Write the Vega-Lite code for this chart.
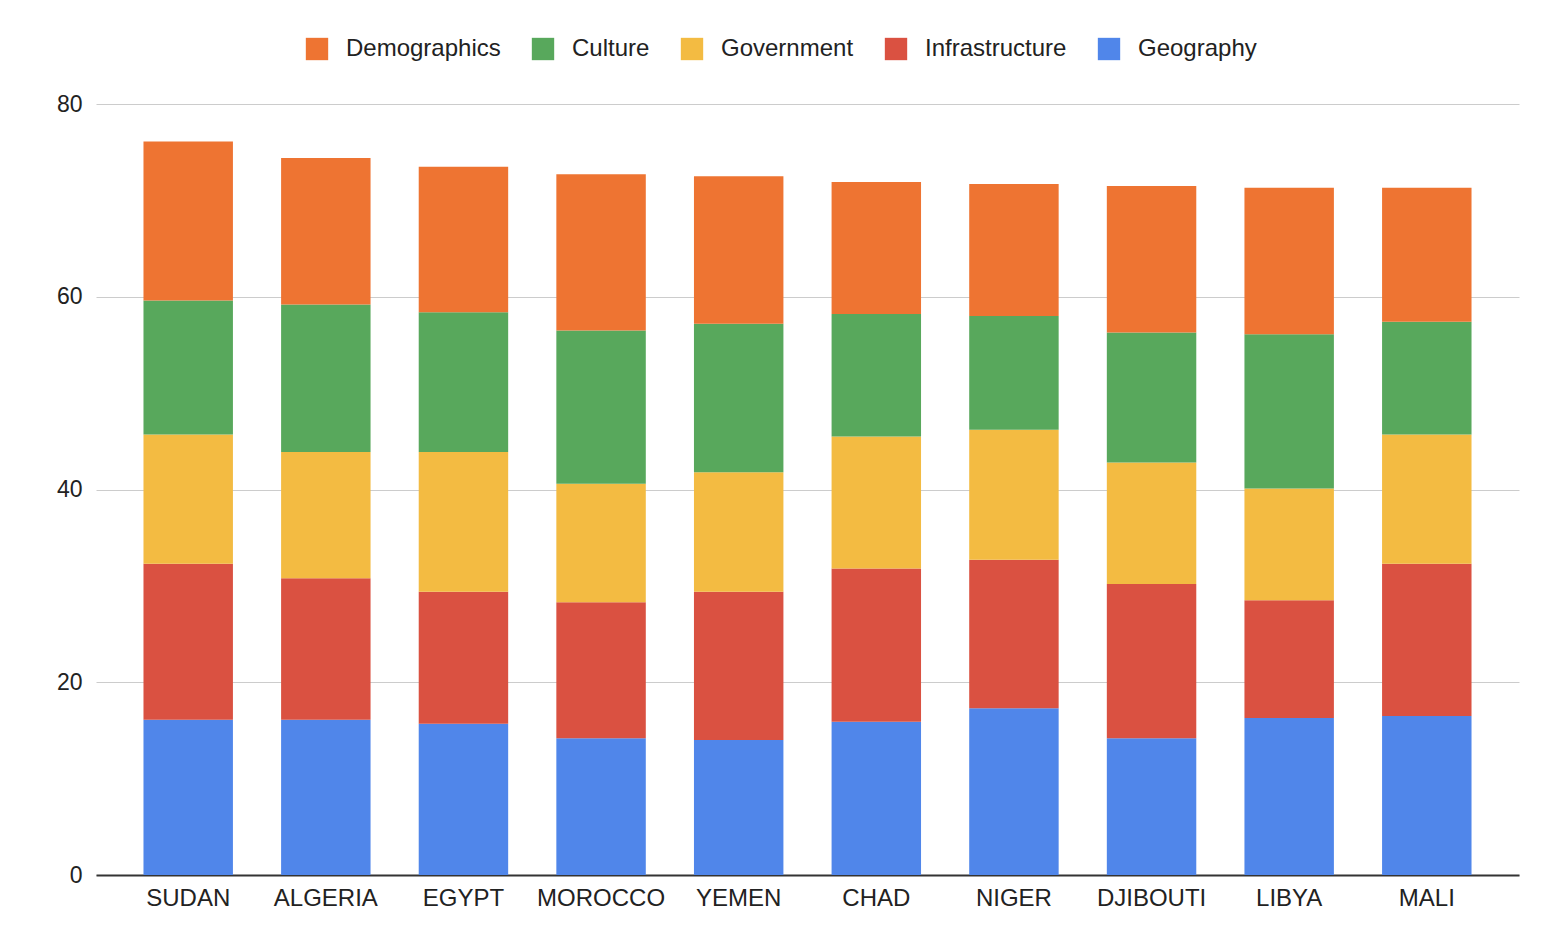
{
  "$schema": "https://vega.github.io/schema/vega-lite/v6.json",
  "autosize": "none",
  "width": 1423,
  "height": 771,
  "padding": {"left": 96, "top": 104, "right": 35, "bottom": 65},
  "background": "white",
  "data": {
    "values": [
      {"country": "SUDAN", "category": "Geography", "rank": 1, "value": 16.1},
      {"country": "SUDAN", "category": "Infrastructure", "rank": 2, "value": 16.2},
      {"country": "SUDAN", "category": "Government", "rank": 3, "value": 13.4},
      {"country": "SUDAN", "category": "Culture", "rank": 4, "value": 13.9},
      {"country": "SUDAN", "category": "Demographics", "rank": 5, "value": 16.5},
      {"country": "ALGERIA", "category": "Geography", "rank": 1, "value": 16.1},
      {"country": "ALGERIA", "category": "Infrastructure", "rank": 2, "value": 14.7},
      {"country": "ALGERIA", "category": "Government", "rank": 3, "value": 13.1},
      {"country": "ALGERIA", "category": "Culture", "rank": 4, "value": 15.3},
      {"country": "ALGERIA", "category": "Demographics", "rank": 5, "value": 15.2},
      {"country": "EGYPT", "category": "Geography", "rank": 1, "value": 15.7},
      {"country": "EGYPT", "category": "Infrastructure", "rank": 2, "value": 13.7},
      {"country": "EGYPT", "category": "Government", "rank": 3, "value": 14.5},
      {"country": "EGYPT", "category": "Culture", "rank": 4, "value": 14.5},
      {"country": "EGYPT", "category": "Demographics", "rank": 5, "value": 15.1},
      {"country": "MOROCCO", "category": "Geography", "rank": 1, "value": 14.2},
      {"country": "MOROCCO", "category": "Infrastructure", "rank": 2, "value": 14.1},
      {"country": "MOROCCO", "category": "Government", "rank": 3, "value": 12.3},
      {"country": "MOROCCO", "category": "Culture", "rank": 4, "value": 15.9},
      {"country": "MOROCCO", "category": "Demographics", "rank": 5, "value": 16.2},
      {"country": "YEMEN", "category": "Geography", "rank": 1, "value": 14.0},
      {"country": "YEMEN", "category": "Infrastructure", "rank": 2, "value": 15.4},
      {"country": "YEMEN", "category": "Government", "rank": 3, "value": 12.4},
      {"country": "YEMEN", "category": "Culture", "rank": 4, "value": 15.4},
      {"country": "YEMEN", "category": "Demographics", "rank": 5, "value": 15.3},
      {"country": "CHAD", "category": "Geography", "rank": 1, "value": 15.9},
      {"country": "CHAD", "category": "Infrastructure", "rank": 2, "value": 15.9},
      {"country": "CHAD", "category": "Government", "rank": 3, "value": 13.7},
      {"country": "CHAD", "category": "Culture", "rank": 4, "value": 12.7},
      {"country": "CHAD", "category": "Demographics", "rank": 5, "value": 13.7},
      {"country": "NIGER", "category": "Geography", "rank": 1, "value": 17.3},
      {"country": "NIGER", "category": "Infrastructure", "rank": 2, "value": 15.4},
      {"country": "NIGER", "category": "Government", "rank": 3, "value": 13.5},
      {"country": "NIGER", "category": "Culture", "rank": 4, "value": 11.8},
      {"country": "NIGER", "category": "Demographics", "rank": 5, "value": 13.7},
      {"country": "DJIBOUTI", "category": "Geography", "rank": 1, "value": 14.2},
      {"country": "DJIBOUTI", "category": "Infrastructure", "rank": 2, "value": 16.0},
      {"country": "DJIBOUTI", "category": "Government", "rank": 3, "value": 12.6},
      {"country": "DJIBOUTI", "category": "Culture", "rank": 4, "value": 13.5},
      {"country": "DJIBOUTI", "category": "Demographics", "rank": 5, "value": 15.2},
      {"country": "LIBYA", "category": "Geography", "rank": 1, "value": 16.3},
      {"country": "LIBYA", "category": "Infrastructure", "rank": 2, "value": 12.2},
      {"country": "LIBYA", "category": "Government", "rank": 3, "value": 11.6},
      {"country": "LIBYA", "category": "Culture", "rank": 4, "value": 16.0},
      {"country": "LIBYA", "category": "Demographics", "rank": 5, "value": 15.2},
      {"country": "MALI", "category": "Geography", "rank": 1, "value": 16.5},
      {"country": "MALI", "category": "Infrastructure", "rank": 2, "value": 15.8},
      {"country": "MALI", "category": "Government", "rank": 3, "value": 13.4},
      {"country": "MALI", "category": "Culture", "rank": 4, "value": 11.7},
      {"country": "MALI", "category": "Demographics", "rank": 5, "value": 13.9}
    ]
  },
  "mark": {"type": "bar"},
  "encoding": {
    "x": {
      "field": "country",
      "type": "nominal",
      "sort": null,
      "title": null,
      "scale": {"paddingInner": 0.35, "paddingOuter": 0.345},
      "axis": {
        "labelAngle": 0,
        "ticks": false,
        "domainColor": "#333333",
        "domainWidth": 2,
        "labelPadding": 11,
        "labelFontSize": 24,
        "labelColor": "#222222"
      }
    },
    "y": {
      "field": "value",
      "type": "quantitative",
      "stack": "zero",
      "title": null,
      "scale": {"domain": [0, 80], "nice": false},
      "axis": {
        "values": [0, 20, 40, 60, 80],
        "domain": false,
        "ticks": false,
        "gridColor": "#cccccc",
        "labelPadding": 14,
        "labelFontSize": 23,
        "labelColor": "#222222"
      }
    },
    "color": {
      "field": "category",
      "type": "nominal",
      "scale": {
        "domain": ["Demographics", "Culture", "Government", "Infrastructure", "Geography"],
        "range": ["#ee7432", "#58a85c", "#f3bb42", "#da5141", "#5086ea"]
      },
      "legend": {
        "orient": "none",
        "legendX": 209,
        "legendY": -67,
        "direction": "horizontal",
        "title": null,
        "symbolType": "square",
        "symbolSize": 500,
        "symbolStrokeWidth": 0,
        "symbolOpacity": 1,
        "labelFontSize": 24,
        "labelColor": "#222222",
        "labelOffset": 17,
        "columnPadding": 30
      }
    },
    "order": {"field": "rank", "type": "quantitative", "sort": "ascending"}
  },
  "config": {
    "font": "Liberation Sans",
    "view": {"stroke": null}
  }
}
